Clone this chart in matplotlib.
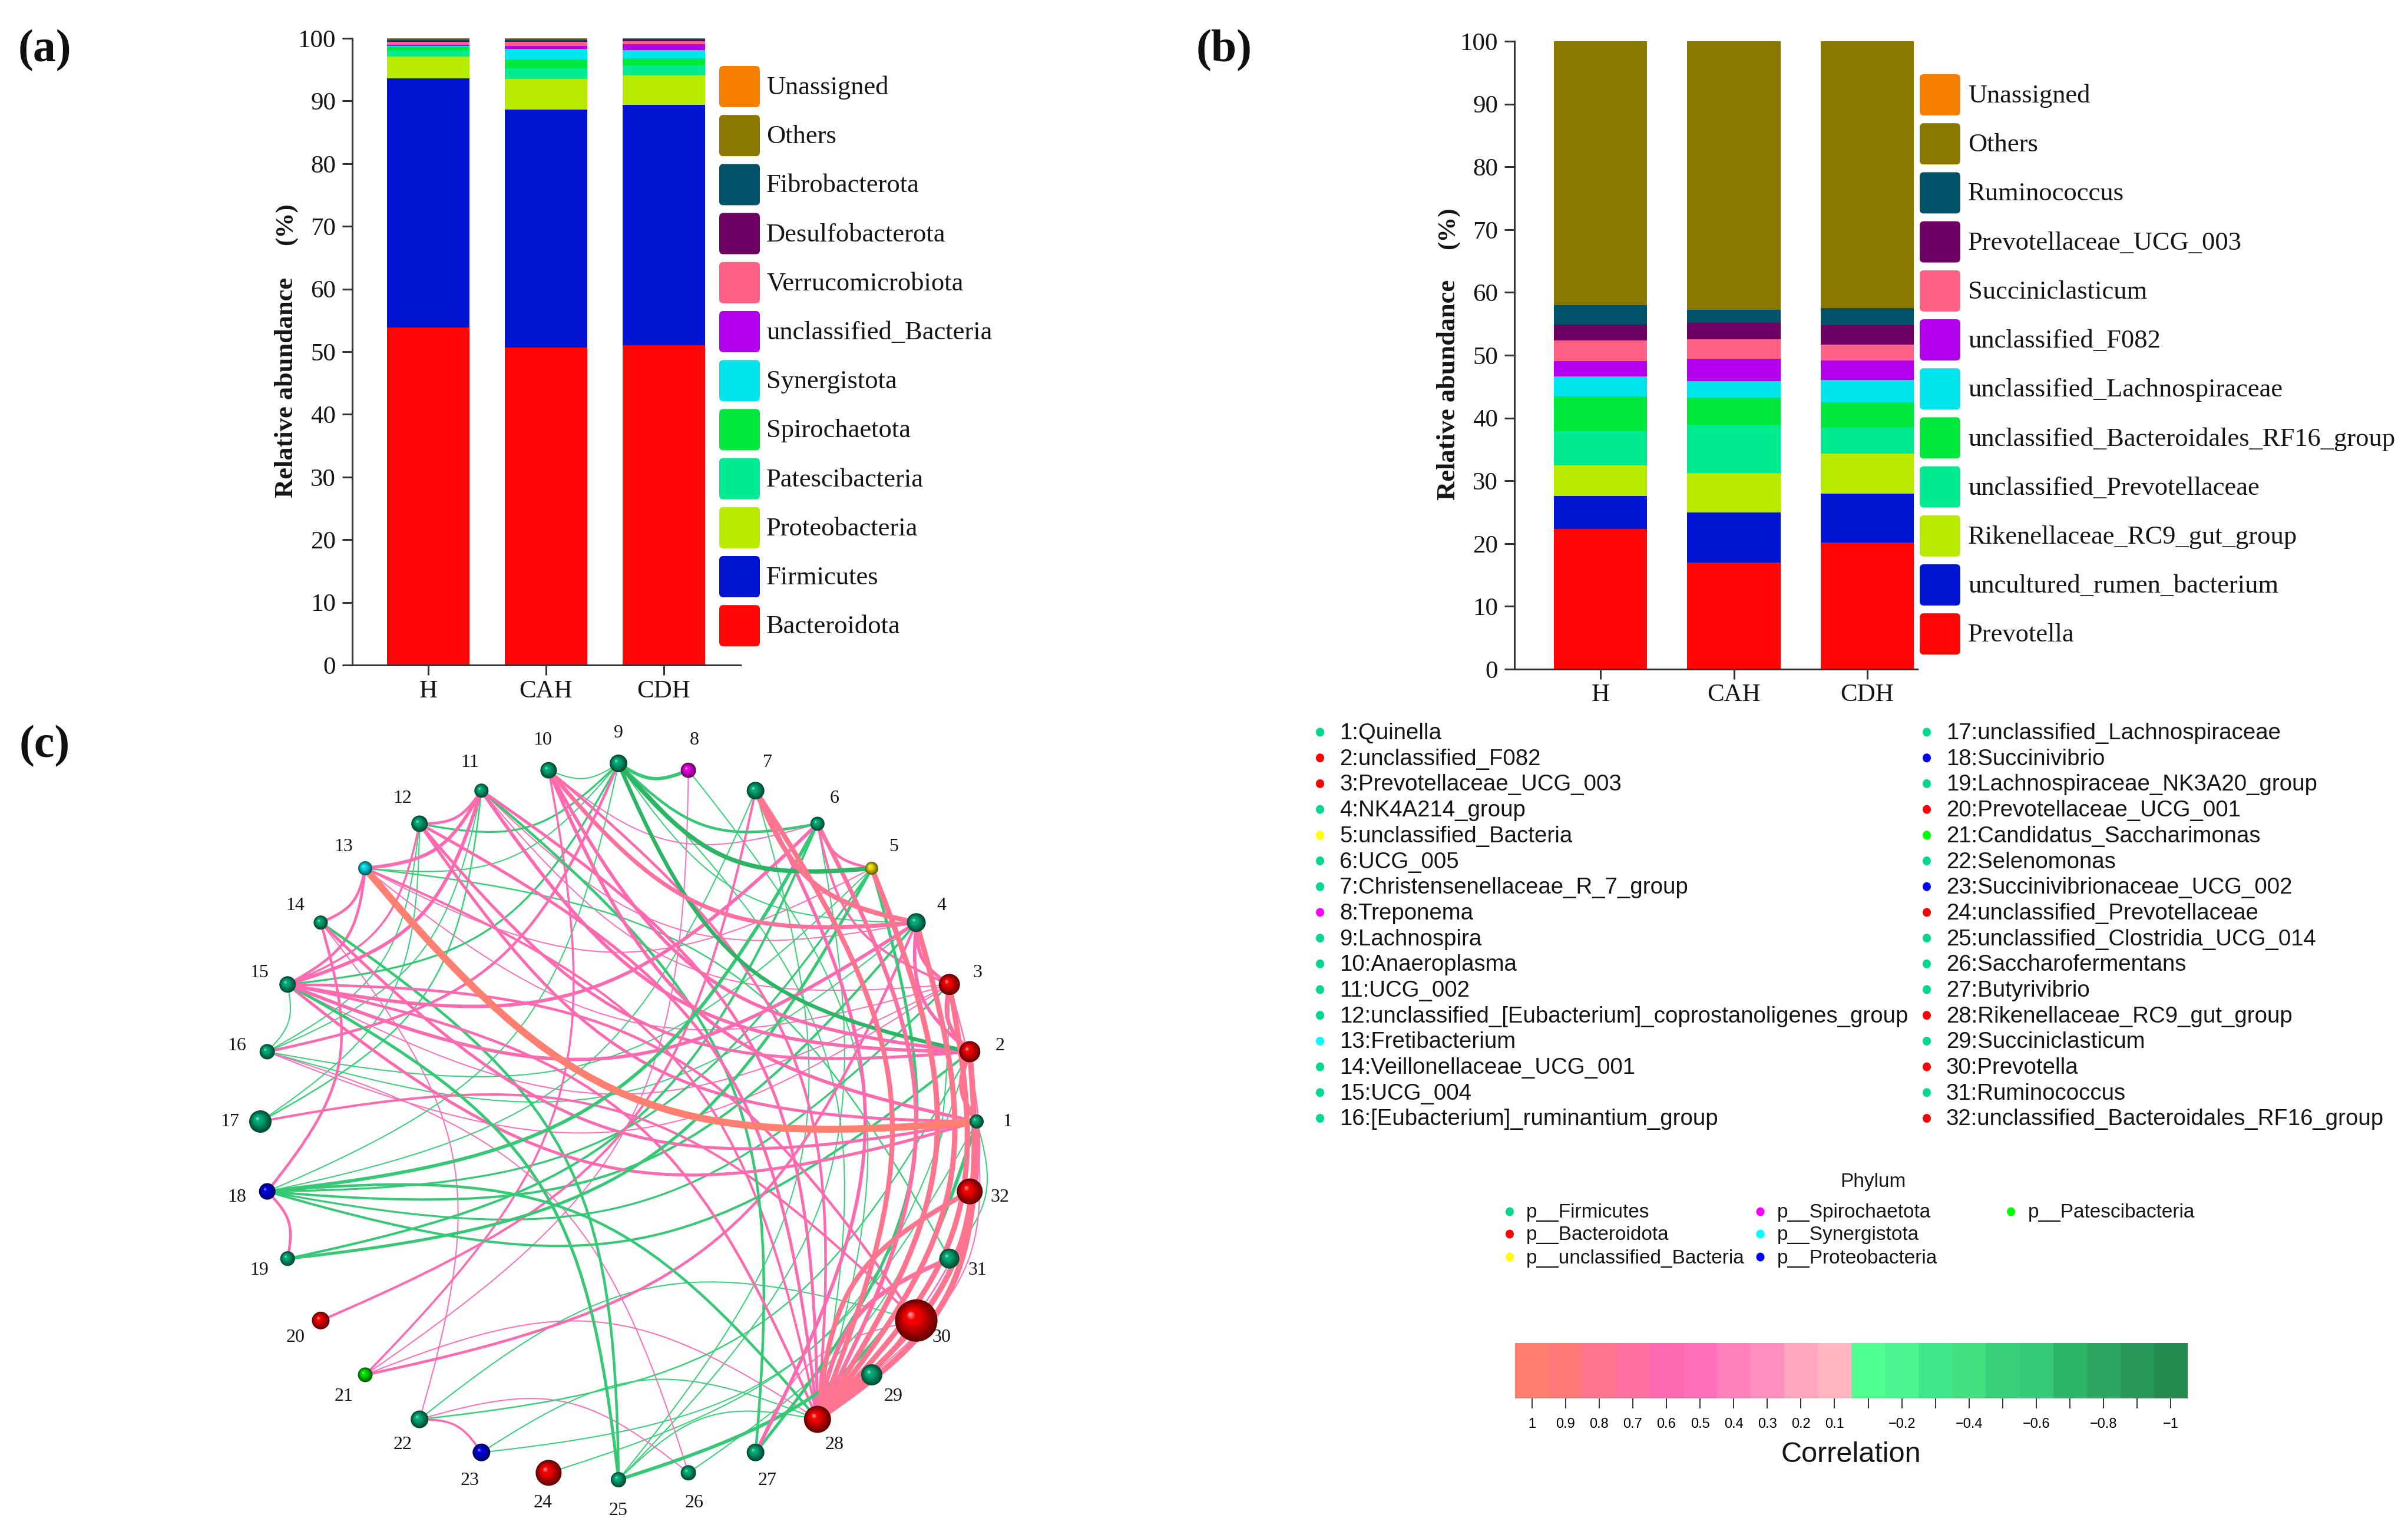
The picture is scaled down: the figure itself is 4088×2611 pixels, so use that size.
import numpy as np
import matplotlib
matplotlib.use("Agg")
import matplotlib.pyplot as plt
from matplotlib.patches import FancyBboxPatch, Circle, PathPatch, Ellipse
from matplotlib.path import Path
from matplotlib.colors import ListedColormap, to_rgb

W, H = 4088, 2611
SERIF = "Liberation Serif"
SANS = "Liberation Sans"

groups = ["H", "CAH", "CDH"]

phylum_names = ["Bacteroidota", "Firmicutes", "Proteobacteria", "Patescibacteria", "Spirochaetota", "Synergistota",
                "unclassified_Bacteria", "Verrucomicrobiota", "Desulfobacterota", "Fibrobacterota", "Others", "Unassigned"]
bacteroidota = [53.9, 50.7, 51.0]
firmicutes = [39.7, 37.9, 38.4]
proteobacteria = [3.5, 4.9, 4.7]
patescibacteria = [0.9, 1.75, 1.6]
spirochaetota = [0.6, 1.4, 1.1]
synergistota = [0.2, 1.65, 1.3]
uncl_bacteria = [0.2, 0.45, 0.93]
verrucomicrobiota = [0.45, 0.72, 0.53]
desulfobacterota = [0.1, 0.2, 0.25]
fibrobacterota = [0.3, 0.13, 0.1]
others_a = [0.15, 0.2, 0.09]
unassigned_a = [0.0, 0.0, 0.0]

genus_names = ["Prevotella", "uncultured_rumen_bacterium", "Rikenellaceae_RC9_gut_group", "unclassified_Prevotellaceae",
               "unclassified_Bacteroidales_RF16_group", "unclassified_Lachnospiraceae", "unclassified_F082",
               "Succiniclasticum", "Prevotellaceae_UCG_003", "Ruminococcus", "Others", "Unassigned"]
prevotella = [22.3, 17.0, 20.2]
uncultured = [5.25, 8.0, 7.8]
rikenellaceae = [4.95, 6.2, 6.3]
uncl_prevotellaceae = [5.4, 7.7, 4.2]
rf16 = [5.5, 4.3, 4.0]
uncl_lachno = [3.25, 2.7, 3.6]
uncl_f082 = [2.45, 3.5, 3.1]
succiniclasticum = [3.2, 3.1, 2.5]
prevotellaceae003 = [2.6, 2.7, 3.1]
ruminococcus = [3.1, 2.0, 2.7]
others_b = [42.0, 42.8, 42.5]
unassigned_b = [0.0, 0.0, 0.0]

stack_colors = ["#FF0505", "#0014D2", "#B8EB00", "#00EB90", "#00E83C", "#00E5EC",
                "#B200EC", "#FF6185", "#6E0064", "#005268", "#8A7800", "#F77F00"]

node_names = ["Quinella", "unclassified_F082", "Prevotellaceae_UCG_003", "NK4A214_group", "unclassified_Bacteria",
              "UCG_005", "Christensenellaceae_R_7_group", "Treponema", "Lachnospira", "Anaeroplasma", "UCG_002",
              "unclassified_[Eubacterium]_coprostanoligenes_group", "Fretibacterium", "Veillonellaceae_UCG_001",
              "UCG_004", "[Eubacterium]_ruminantium_group", "unclassified_Lachnospiraceae", "Succinivibrio",
              "Lachnospiraceae_NK3A20_group", "Prevotellaceae_UCG_001", "Candidatus_Saccharimonas", "Selenomonas",
              "Succinivibrionaceae_UCG_002", "unclassified_Prevotellaceae", "unclassified_Clostridia_UCG_014",
              "Saccharofermentans", "Butyrivibrio", "Rikenellaceae_RC9_gut_group", "Succiniclasticum", "Prevotella",
              "Ruminococcus", "unclassified_Bacteroidales_RF16_group"]
node_phylum = list("FBBFUFFSFFFFYFFFFPFBGFPBFFFBFBFB")
node_radius = [12, 18, 18, 16, 11, 12, 15, 13, 15, 14, 12, 14, 12, 12, 14, 13,
               19, 14, 12.5, 15, 12.5, 15, 15, 22, 13, 13, 15, 23, 18, 36, 17, 22]

phylum_legend = [("p__Firmicutes", "F"), ("p__Bacteroidota", "B"), ("p__unclassified_Bacteria", "U"),
                 ("p__Spirochaetota", "S"), ("p__Synergistota", "Y"), ("p__Proteobacteria", "P"),
                 ("p__Patescibacteria", "G")]
legend_dot = {"F": "#00D890", "B": "#FF0000", "U": "#FFFF00", "S": "#FF00FF", "Y": "#00FFFF", "P": "#0000FF", "G": "#00FF00"}
sphere_base = {"F": "#00A875", "B": "#F00000", "U": "#E6D800", "S": "#E800E0", "Y": "#00D8E8", "P": "#0000E0", "G": "#00E000"}

# (node, node, correlation)
edges = [
    (1, 2, .85), (1, 13, 1.0), (1, 14, .72), (1, 15, .72), (1, 28, .92), (1, 31, -.6), (1, 23, -.6), (1, 29, .6),
    (1, 25, -.75), (1, 10, .75), (1, 12, .72),
    (2, 3, .8), (2, 9, -.78), (2, 11, .75), (2, 12, .72), (2, 28, .9), (2, 22, -.62), (2, 4, .75), (2, 10, .75), (2, 24, -.6),
    (3, 4, .75), (3, 6, .68), (3, 18, -.65), (3, 28, .88), (3, 11, .6), (3, 13, .6), (3, 16, .6), (3, 15, .6), (3, 26, -.6), (3, 29, .62),
    (4, 7, .85), (4, 10, .8), (4, 21, .7), (4, 28, .88), (4, 9, -.6), (4, 16, -.6), (4, 18, -.68), (4, 11, .6), (4, 15, .75),
    (5, 6, .7), (5, 9, -.82), (5, 18, -.65), (5, 19, -.72), (5, 27, -.72), (5, 28, .88), (5, 13, .6), (5, 16, -.6),
    (6, 9, -.7), (6, 18, -.75), (6, 19, -.68), (6, 25, -.6), (6, 10, .6), (6, 15, .75), (6, 28, .8),
    (7, 20, .68), (7, 28, .85), (7, 27, .75), (7, 18, -.6), (7, 25, -.6),
    (8, 9, -.75), (8, 21, .6), (8, 28, -.6),
    (9, 12, -.65), (9, 13, -.6), (9, 15, -.65), (9, 16, .7), (9, 28, -.6), (9, 10, -.6),
    (10, 21, .66), (10, 28, .7),
    (11, 12, .7), (11, 13, .75), (11, 15, .75), (11, 17, -.62), (11, 16, -.6), (11, 27, -.7), (11, 28, .72),
    (12, 15, .66), (12, 16, -.6), (12, 17, -.6), (12, 28, .72),
    (13, 14, .7), (13, 15, .7), (13, 31, -.62), (13, 28, .68),
    (14, 18, .7), (14, 22, .6), (14, 25, -.7),
    (15, 16, -.6), (15, 25, -.72), (15, 28, .7), (15, 30, .7),
    (16, 26, .6), (17, 30, .68),
    (18, 19, .7), (18, 28, -.7), (9, 18, -.6), (2, 18, -.68),
    (21, 28, .6), (22, 23, .66), (22, 26, .6), (22, 30, -.6), (23, 28, -.6), (25, 28, -.6), (27, 30, .6),
    (28, 32, .85), (28, 31, .82),
]

cbar_values = [1, .9, .8, .7, .6, .5, .4, .3, .2, .1, -.1, -.2, -.3, -.4, -.5, -.6, -.7, -.8, -.9, -1]
cbar_colors = ["#FF8070", "#FF7878", "#FF7590", "#FF70A0", "#FF69B0", "#FF6EB8", "#FF80BB", "#FF8FBC", "#FFA5BE", "#FFB6C1",
               "#4FFF90", "#4CF58F", "#40E68A", "#44E080", "#38D078", "#35C875", "#2CB565", "#2BA560", "#28985A", "#238B50"]
cbar_labels = ["1", "0.9", "0.8", "0.7", "0.6", "0.5", "0.4", "0.3", "0.2", "0.1", "", "\u22120.2", "", "\u22120.4", "",
               "\u22120.6", "", "\u22120.8", "", "\u22121"]

fig = plt.figure(figsize=(W / 100, H / 100), dpi=100, facecolor="white")


def add_px_axes(x0, y_top, x1, y_bot, **kw):
    return fig.add_axes([x0 / W, 1 - y_bot / H, (x1 - x0) / W, (y_bot - y_top) / H], **kw)


def bar_panel(series, x0, x1, y_top, y_bot, xlim):
    ax = add_px_axes(x0, y_top, x1, y_bot)
    bottom = np.zeros(3)
    for vals, col in zip(series, stack_colors):
        ax.bar(np.arange(3), vals, 0.70, bottom=bottom, color=col, linewidth=0)
        bottom += np.array(vals)
    ax.set_xlim(*xlim)
    ax.set_ylim(0, 100)
    ax.set_xticks(np.arange(3), groups)
    ax.set_yticks(np.arange(0, 101, 10))
    for s in ("top", "right"):
        ax.spines[s].set_visible(False)
    for s in ("left", "bottom"):
        ax.spines[s].set_linewidth(2.2)
        ax.spines[s].set_color("#333333")
    ax.tick_params(length=12, width=2.2, color="#333333", labelsize=31, labelcolor="#151515", pad=8)
    ax.tick_params(axis="x", pad=6)
    for t in ax.get_xticklabels() + ax.get_yticklabels():
        t.set_fontfamily(SERIF)
    ax.patch.set_alpha(0)
    return ax


bar_panel([bacteroidota, firmicutes, proteobacteria, patescibacteria, spirochaetota, synergistota, uncl_bacteria,
           verrucomicrobiota, desulfobacterota, fibrobacterota, others_a, unassigned_a],
          598, 1257, 65, 1129, (-0.645, 2.65))
bar_panel([prevotella, uncultured, rikenellaceae, uncl_prevotellaceae, rf16, uncl_lachno, uncl_f082, succiniclasticum,
           prevotellaceae003, ruminococcus, others_b, unassigned_b],
          2571, 3255, 70, 1136, (-0.645, 2.375))

ov = fig.add_axes([0, 0, 1, 1], facecolor="none")
ov.set_xlim(0, W)
ov.set_ylim(H, 0)
ov.axis("off")


def stack_legend(names, sx, tx, y_first):
    for k, (name, col) in enumerate(zip(names[::-1], stack_colors[::-1])):
        y = y_first + 83.2 * k
        ov.add_patch(FancyBboxPatch((sx + 5, y - 30), 59, 60, boxstyle="round,pad=5,rounding_size=7",
                                    facecolor=col, edgecolor="none"))
        ov.text(tx, y + 2, name, family=SERIF, fontsize=32, va="center", ha="left", color="#151515")


stack_legend(phylum_names, 1221, 1301, 147)
stack_legend(genus_names, 3259, 3341, 161)

for x, ytxt, ypct in [(486, 658, 380), (2459, 662, 387)]:
    ov.text(x, ytxt, "Relative abundance", family=SERIF, fontsize=32, fontweight="bold", rotation=90,
            ha="center", va="center", color="#151515")
    ov.text(x, ypct, "(%)", family=SERIF, fontsize=31, fontweight="bold", rotation=90,
            ha="center", va="center", color="#151515")

for lab, x, y in [("(a)", 76, 86), ("(b)", 2078, 86), ("(c)", 76, 1267)]:
    ov.text(x, y, lab, family=SERIF, fontsize=56, fontweight="bold", ha="center", va="center", color="#101010")

# Network
CX, CY, R_NODE, R_LABEL = 1050, 1904, 608, 660
angles = np.arange(32) * 2 * np.pi / 32
node_x = CX + R_NODE * np.cos(angles)
node_y = CY - R_NODE * np.sin(angles)
corr_lookup = dict(zip(cbar_values, cbar_colors))
CURV = 0.26
TIGHT = 0.85
for i, j, r in sorted(edges, key=lambda e: abs(e[2])):
    a, b = sorted((i, j))
    p0 = np.array([node_x[a - 1], node_y[a - 1]])
    p1 = np.array([node_x[b - 1], node_y[b - 1]])
    v = p1 - p0
    ctrl = (p0 + p1) / 2 + CURV * np.array([v[1], -v[0]])
    c1 = p0 + TIGHT * (ctrl - p0)
    c2 = p1 + TIGHT * (ctrl - p1)
    key = round(np.sign(r) * (abs(r) - 0.1), 1) if abs(r) < 0.95 else round(r, 1)
    lw_px = 2.0 + (abs(r) - 0.6) * 25
    ov.add_patch(PathPatch(Path([p0, c1, c2, p1], [Path.MOVETO, Path.CURVE4, Path.CURVE4, Path.CURVE4]), facecolor="none",
                           edgecolor=corr_lookup[key], linewidth=lw_px * 0.72, capstyle="round", zorder=2))

for k in range(32):
    base = np.array(to_rgb(sphere_base[node_phylum[k]]))
    rad = node_radius[k]
    x, y = node_x[k], node_y[k]
    steps = 16
    for s in range(steps):
        t = s / (steps - 1)
        col = base * (0.42 + 0.58 * min(t * 1.5, 1))
        if t > 0.8:
            col = col + (1 - col) * ((t - 0.8) / 0.2) * 0.55
        rr = rad * (1 - 0.93 * t)
        ov.add_patch(Circle((x - 0.28 * rad * t, y - 0.28 * rad * t), rr, facecolor=col, edgecolor="none", zorder=3))
    ov.text(CX + R_LABEL * np.cos(angles[k]), CY - R_LABEL * np.sin(angles[k]), str(k + 1), family=SERIF, fontsize=23,
            ha="center", va="center", color="#151515", zorder=4)

# Species list
for k, name in enumerate(node_names):
    col = k // 16
    row = k % 16
    y = 1243 + 43.7 * row
    ov.add_patch(Ellipse(((2241, 3271)[col], y), 14, 15, facecolor=legend_dot[node_phylum[k]], edgecolor="none"))
    ov.text((2274.5, 3304)[col], y + 2, f"{k + 1}:{name}", family=SANS, fontsize=27.6, ha="left", va="center", color="#151515")

# Phylum legend
ov.text(3180, 2007, "Phylum", family=SANS, fontsize=24, ha="center", va="center", color="#151515")
for k, (name, code) in enumerate(phylum_legend):
    col = k // 3
    row = k % 3
    y = (2057, 2095, 2134)[row]
    ov.add_patch(Ellipse(((2563, 2988.5, 3414)[col], y), 14, 15, facecolor=legend_dot[code], edgecolor="none"))
    ov.text((2591, 3017, 3443)[col], y + 2, name, family=SANS, fontsize=24, ha="left", va="center", color="#151515")

# Colour bar
cax = add_px_axes(2572, 2280, 3714, 2374)
cax.pcolormesh(np.arange(21), [0, 1], np.arange(20).reshape(1, -1), cmap=ListedColormap(cbar_colors), vmin=-0.5, vmax=19.5)
cax.set_yticks([])
cax.set_xticks(np.arange(20) + 0.5, cbar_labels, family=SANS, fontsize=17)
cax.tick_params(axis="x", length=12, width=1.2, pad=12, color="#111111")
for s in cax.spines.values():
    s.set_visible(False)
ov.text(3142.6, 2470, "Correlation", family=SANS, fontsize=35, ha="center", va="center", color="#151515")

fig.savefig("out.png", dpi=100, facecolor="white")
